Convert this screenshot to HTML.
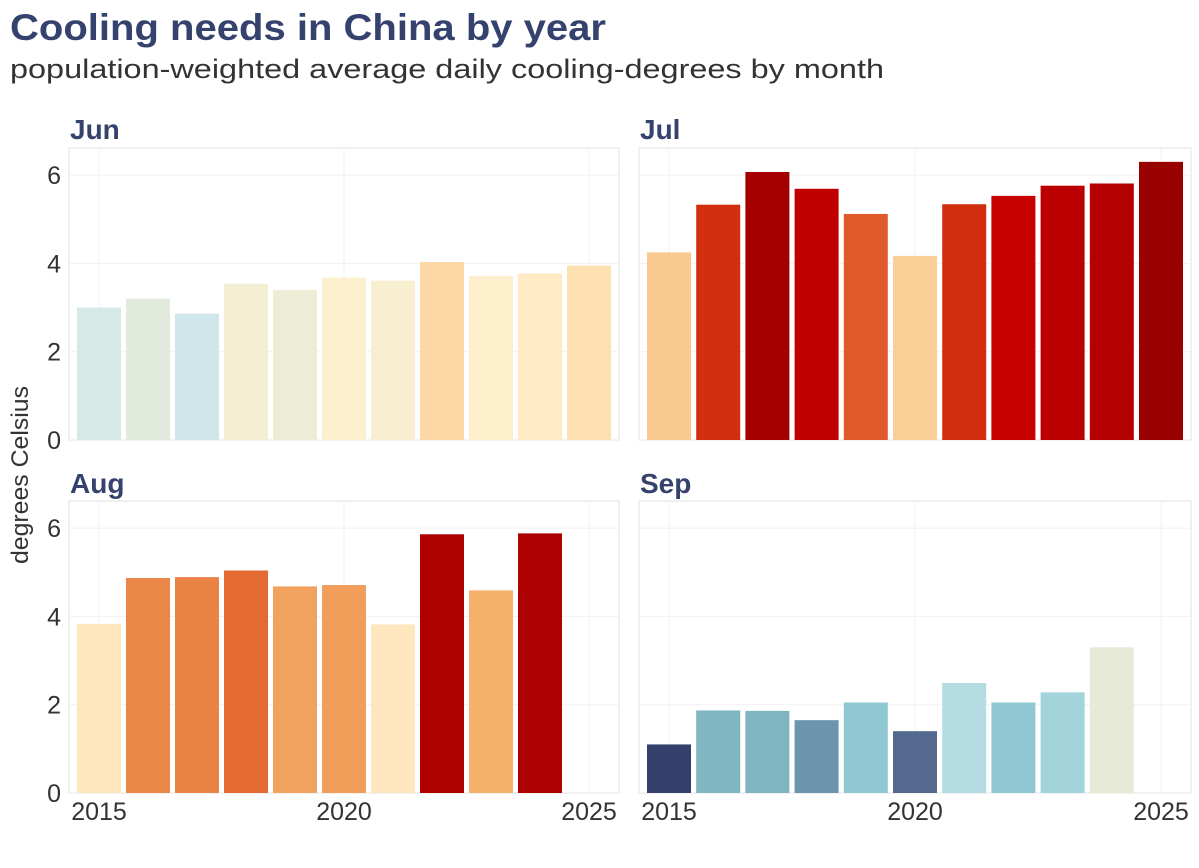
<!DOCTYPE html>
<html><head><meta charset="utf-8">
<style>
body{margin:0;background:#fff;}
svg{display:block;font-family:"Liberation Sans",sans-serif;}
</style></head>
<body>
<svg id="chart" width="1199" height="868" viewBox="0 0 1199 868">
<text x="10" y="40" font-size="37" font-weight="bold" fill="#36426e" textLength="596" lengthAdjust="spacingAndGlyphs">Cooling needs in China by year</text>
<text x="10" y="78" font-size="27" fill="#333" textLength="874" lengthAdjust="spacingAndGlyphs">population-weighted average daily cooling-degrees by month</text>
<text transform="translate(28,475) rotate(-90)" text-anchor="middle" font-size="24" fill="#333" textLength="178" lengthAdjust="spacingAndGlyphs">degrees Celsius</text>
<g id="panels"></g>
</svg>
<script>
const months = ["Jun","Jul","Aug","Sep"];
const yearsJun = [2015,2016,2017,2018,2019,2020,2021,2022,2023,2024,2025];
const valuesJun = [3.00,3.20,2.86,3.54,3.40,3.68,3.61,4.03,3.71,3.77,3.95];
const yearsJul = [2015,2016,2017,2018,2019,2020,2021,2022,2023,2024,2025];
const valuesJul = [4.25,5.33,6.07,5.69,5.12,4.17,5.34,5.53,5.76,5.81,6.30];
const yearsAug = [2015,2016,2017,2018,2019,2020,2021,2022,2023,2024];
const valuesAug = [3.83,4.87,4.89,5.04,4.68,4.71,3.82,5.86,4.59,5.88];
const yearsSep = [2015,2016,2017,2018,2019,2020,2021,2022,2023,2024];
const valuesSep = [1.10,1.87,1.86,1.65,2.05,1.40,2.49,2.05,2.28,3.30];
const yTicks = [0,2,4,6];
const xTicks = [2015,2020,2025];

const colorStops = [[1.1,"#343f6c"],[1.4,"#536a8e"],[1.65,"#6b95ad"],[1.87,"#80b5c2"],[2.05,"#8fc8d2"],[2.3,"#a5d5dc"],[2.5,"#b5dce2"],[2.86,"#cfe6ea"],[3.0,"#d6e9e6"],[3.3,"#e8ead8"],[3.54,"#f4efd3"],[3.7,"#fef0cd"],[3.83,"#fee6bd"],[3.95,"#fde0b0"],[4.03,"#fdd8a6"],[4.25,"#f9c98f"],[4.59,"#f5b06c"],[4.7,"#f09f5b"],[4.87,"#ea8648"],[5.04,"#e36b33"],[5.12,"#e0592a"],[5.33,"#d22f10"],[5.53,"#c70000"],[5.7,"#c00000"],[5.85,"#b00000"],[6.07,"#a40000"],[6.3,"#990000"]];
function hex(c){return [1,3,5].map(i=>parseInt(c.substr(i,2),16));}
function colorFor(v){
  if(v<=colorStops[0][0])return colorStops[0][1];
  for(let i=1;i<colorStops.length;i++){
    if(v<=colorStops[i][0]){
      const [a,ca]=colorStops[i-1],[b,cb]=colorStops[i];
      const t=(v-a)/(b-a),A=hex(ca),B=hex(cb);
      return "rgb("+A.map((x,k)=>Math.round(x+(B[k]-x)*t)).join(",")+")";
    }
  }
  return colorStops[colorStops.length-1][1];
}
const NS="http://www.w3.org/2000/svg";
const root=document.getElementById("panels");
function mk(tag,attrs,parent){const e=document.createElementNS(NS,tag);for(const k in attrs)e.setAttribute(k,attrs[k]);parent.appendChild(e);return e;}

const panelDefs=[
 {name:"Jun",years:yearsJun,vals:valuesJun,x0:69,x1:619,y0:148,y1:440,showX:false,showY:true,labelX:70,labelY:139},
 {name:"Jul",years:yearsJul,vals:valuesJul,x0:639,x1:1191,y0:148,y1:440,showX:false,showY:false,labelX:640,labelY:139},
 {name:"Aug",years:yearsAug,vals:valuesAug,x0:69,x1:619,y0:501,y1:793,showX:true,showY:true,labelX:70,labelY:493},
 {name:"Sep",years:yearsSep,vals:valuesSep,x0:639,x1:1191,y0:501,y1:793,showX:true,showY:false,labelX:640,labelY:493}
];
panelDefs.forEach(p=>{
  const g=mk("g",{},root);
  
  
  const x2015=p.x0+30, step=(p.x1-p.x0-60)/10;
  const xs=yr=>x2015+(yr-2015)*step;
  const ys=v=>p.y1-v*44.15;
  const bg=mk("rect",{x:p.x0,y:p.y0,width:p.x1-p.x0,height:p.y1-p.y0,fill:"#fff",stroke:"#ececec","stroke-width":1.5},g);
  
  
  yTicks.forEach(t=>{
    const l=mk("line",{x1:p.x0,x2:p.x1,y1:ys(t),y2:ys(t),stroke:"#f0f0f0","stroke-width":1},g);
    
    
    if(p.showY){
      const tx=mk("text",{x:p.x0-8,y:ys(t)+9,"text-anchor":"end","font-size":25,fill:"#333"},g);
      tx.textContent=t;
      
      
    }
  });
  xTicks.forEach(t=>{
    const l=mk("line",{x1:xs(t),x2:xs(t),y1:p.y0,y2:p.y1,stroke:"#f0f0f0","stroke-width":1},g);
    
    
    if(p.showX){
      const tx=mk("text",{x:xs(t),y:p.y1+27,"text-anchor":"middle","font-size":25,fill:"#333"},g);
      tx.textContent=t;
      
      
    }
  });
  p.years.forEach((yr,i)=>{
    const v=p.vals[i];
    const r=mk("rect",{x:xs(yr)-22,y:ys(v),width:44,height:p.y1-ys(v),fill:colorFor(v)},g);
    
    
  });
  const lab=mk("text",{x:p.labelX,y:p.labelY,"font-size":28,"font-weight":"bold",fill:"#36426e"},g);
  lab.textContent=p.name;
  
  
});
</script>
</body></html>
